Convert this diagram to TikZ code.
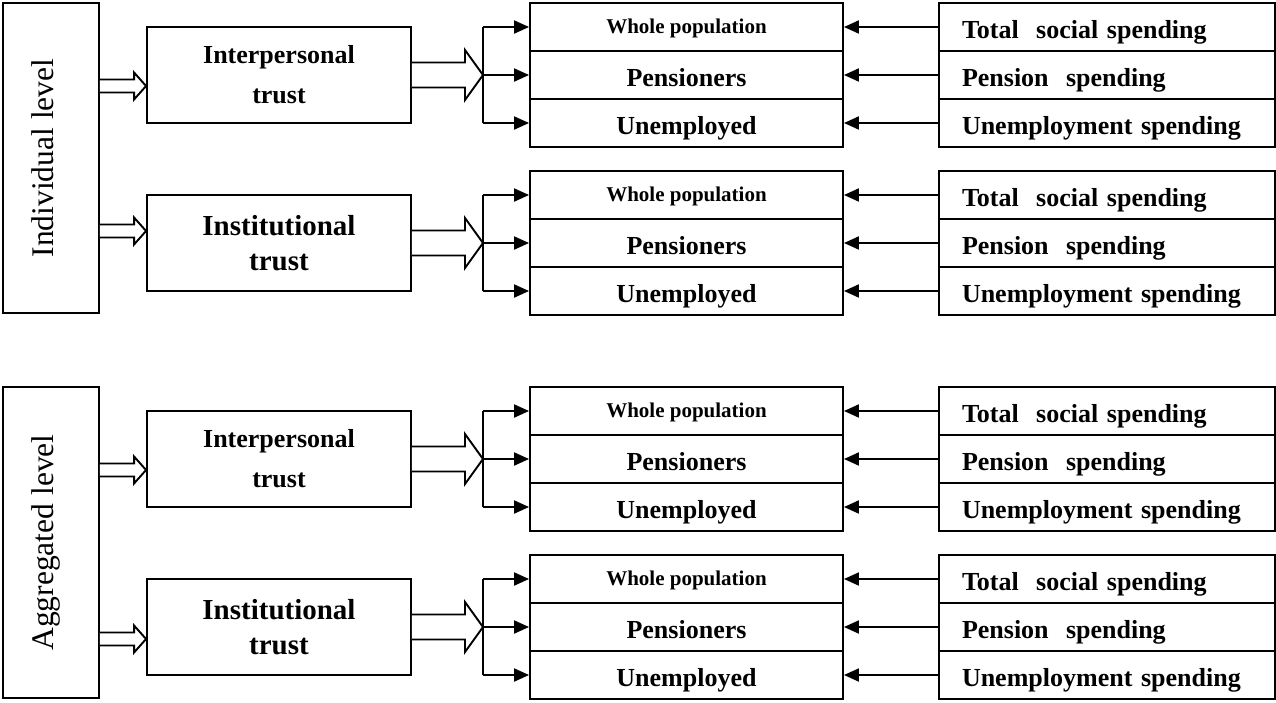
\documentclass[tikz,border=0pt]{standalone}
\usepackage{fontspec}
\setmainfont{Liberation Serif}
\usetikzlibrary{arrows.meta,calc}

% Outlined block arrow: from, to, half shaft, half head, head length
\newcommand{\blockarrow}[5]{%
  \draw[fill=white, line join=miter]
    ($(#1)+(0,-#3)$) -- ($(#2)+(-#5,-#3)$) -- ($(#2)+(-#5,-#4)$) -- (#2)
    -- ($(#2)+(-#5,#4)$) -- ($(#2)+(-#5,#3)$) -- ($(#1)+(0,#3)$);
}

\begin{document}
\begin{tikzpicture}[x=1pt, y=-1pt, line width=1.9pt,
    framebox/.style={draw, line width=1.9pt, inner sep=0pt},
    levelbox/.style={framebox, rotate=90, minimum width=310pt, minimum height=96pt,
        font=\fontsize{31.5}{36}\selectfont, text height=21pt, text depth=17pt},
    trustbox/.style={framebox, minimum width=264pt, minimum height=96pt, align=center},
    interfont/.style={font=\bfseries\fontsize{26}{40}\selectfont},
    instfont/.style={font=\bfseries\fontsize{29}{35}\selectfont},
    groupbox/.style={framebox, minimum width=313pt, minimum height=48pt,
        font=\bfseries\fontsize{26}{30}\selectfont, text height=24pt, text depth=2pt},
    smallgroup/.style={groupbox, font=\bfseries\fontsize{21}{25}\selectfont,
        text height=15pt, text depth=3pt},
    spendbox/.style={framebox, minimum width=336pt, minimum height=48pt,
        text width=290pt, align=left,
        font=\bfseries\fontsize{26}{30}\selectfont, text height=24pt, text depth=2pt},
    feed/.style={-{Triangle[length=15pt, width=13pt]}, line width=1.9pt}]

    \useasboundingbox (0,0) rectangle (1276,702);

    % Draw level boxes
    \node[levelbox] (indiv) at (51,158) {Individual level};
    \node[levelbox, minimum width=311pt] (aggr) at (51,542.5) {Aggregated level};

    % Draw the four trust groups
    \foreach \g/\top/\lvl/\arry/\kind/\trust in {%
        g1/3/indiv/86/interfont/Interpersonal,
        g2/171/indiv/231/instfont/Institutional,
        g3/387/aggr/470/interfont/Interpersonal,
        g4/555/aggr/639/instfont/Institutional} {

        % Boxes
        \node[trustbox, \kind] (\g-trust) at (279,\top+72) {\trust\\trust};
        \node[smallgroup] (\g-whole) at (686.5,\top+24) {Whole population};
        \node[groupbox] (\g-pens) at (686.5,\top+72) {Pensioners};
        \node[groupbox] (\g-unemp) at (686.5,\top+120) {Unemployed};
        \node[spendbox] (\g-total) at (1107,\top+24) {Total\ \ social spending};
        \node[spendbox] (\g-pspend) at (1107,\top+72) {Pension\ \ spending};
        \node[spendbox] (\g-uspend) at (1107,\top+120) {Unemployment spending};

        % Block arrows
        \coordinate (\g-in) at (\lvl.south |- 0,\arry);
        \coordinate (\g-tip) at (\g-trust.west |- \g-in);
        \coordinate (\g-split) at (483,\top+72);
        \blockarrow{\g-in}{\g-tip}{6.5}{13.5}{12}
        \blockarrow{\g-trust.east}{\g-split}{12.5}{25}{18}

        % Branch to the groups
        \draw (\g-split |- \g-whole) -- (\g-split |- \g-unemp);
        \foreach \r in {whole,pens,unemp}
            \draw[feed] (\g-split |- \g-\r) -- (\g-\r.west);

        % Spending arrows
        \draw[feed] (\g-total) -- (\g-whole);
        \draw[feed] (\g-pspend) -- (\g-pens);
        \draw[feed] (\g-uspend) -- (\g-unemp);
    }

\end{tikzpicture}
\end{document}
